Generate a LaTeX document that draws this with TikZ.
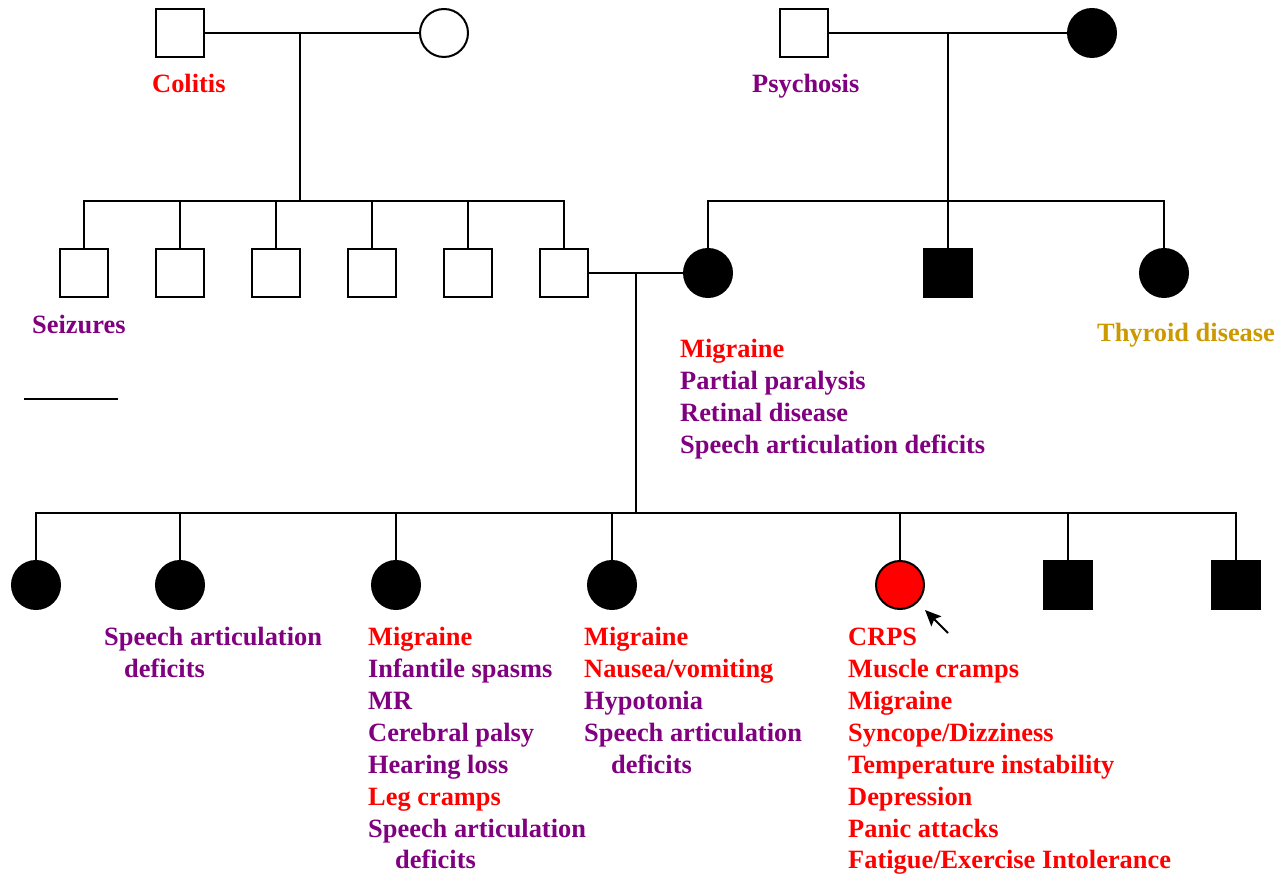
\documentclass[tikz,border=0pt]{standalone}
\usepackage{fontspec}
\setmainfont{Liberation Serif}
\usetikzlibrary{arrows.meta}
\definecolor{sred}{RGB}{255,0,0}
\definecolor{spurple}{RGB}{128,0,128}
\definecolor{sgold}{RGB}{204,153,0}
\newcommand{\lbfont}{\bfseries\fontsize{26.4}{32}\selectfont}
\tikzset{
  male/.style={draw, line width=2pt, rectangle, minimum size=48pt, inner sep=0pt},
  female/.style={draw, line width=2pt, circle, minimum size=48pt, inner sep=0pt},
  aff/.style={fill=black},
  link/.style={line width=2pt},
  lbl/.style={anchor=base west, inner sep=0pt, font=\lbfont},
  red/.style={text=sred},
  pur/.style={text=spurple},
  gold/.style={text=sgold},
}
\begin{document}
\begin{tikzpicture}[x=1pt, y=-1pt]
\useasboundingbox (0,0) rectangle (1278,874);

% ---- generation I ----
\node[male]        (gf1) at (180,33) {};
\node[female]      (gm1) at (444,33) {};
\node[male]        (gf2) at (804,33) {};
\node[female, aff] (gm2) at (1092,33) {};
\node[lbl, red] (tcol) at (152,93) {Colitis};
\node[lbl, pur] (tpsy) at (752,93) {Psychosis};

% ---- generation II, paternal side ----
\foreach \i/\x in {1/84, 2/180, 3/276, 4/372, 5/468, 6/564}
  \node[male] (p\i) at (\x,273) {};
% ---- generation II, maternal side ----
\node[female, aff] (mo)  at (708,273) {};
\node[male, aff]   (mu)  at (948,273) {};
\node[female, aff] (mau) at (1164,273) {};
\node[lbl, pur]  (tsei) at (32,334) {Seizures};
\node[lbl, gold] (tthy) at (1097,342) {Thyroid disease};
\node[lbl, red]  (tmo1) at (680,358) {Migraine};
\node[lbl, pur]  (tmo2) at (680,390) {Partial paralysis};
\node[lbl, pur]  (tmo3) at (680,422) {Retinal disease};
\node[lbl, pur]  (tmo4) at (680,454) {Speech articulation deficits};

% short rule under the paternal uncles
\coordinate (ra) at (24,399);
\coordinate (rb) at (118,399);
\draw[link] (ra) -- (rb);

% ---- generation III ----
\node[female, aff] (k1) at (36,585) {};
\node[female, aff] (k2) at (180,585) {};
\node[female, aff] (k3) at (396,585) {};
\node[female, aff] (k4) at (612,585) {};
\node[female, fill=sred] (k5) at (900,585) {};
\node[male, aff]   (k6) at (1068,585) {};
\node[male, aff]   (k7) at (1236,585) {};

\node[lbl, pur] (a1) at (104,645) {Speech articulation};
\node[lbl, pur] (a2) at (124,677) {deficits};

\node[lbl, red] (b1) at (368,645) {Migraine};
\node[lbl, pur] (b2) at (368,677) {Infantile spasms};
\node[lbl, pur] (b3) at (368,709) {MR};
\node[lbl, pur] (b4) at (368,741) {Cerebral palsy};
\node[lbl, pur] (b5) at (368,773) {Hearing loss};
\node[lbl, red] (b6) at (368,805) {Leg cramps};
\node[lbl, pur] (b7) at (368,837) {Speech articulation};
\node[lbl, pur] (b8) at (395,868) {deficits};

\node[lbl, red] (c1) at (584,645) {Migraine};
\node[lbl, red] (c2) at (584,677) {Nausea/vomiting};
\node[lbl, pur] (c3) at (584,709) {Hypotonia};
\node[lbl, pur] (c4) at (584,741) {Speech articulation};
\node[lbl, pur] (c5) at (611,773) {deficits};

\node[lbl, red] (d1) at (848,645) {CRPS};
\node[lbl, red] (d2) at (848,677) {Muscle cramps};
\node[lbl, red] (d3) at (848,709) {Migraine};
\node[lbl, red] (d4) at (848,741) {Syncope/Dizziness};
\node[lbl, red] (d5) at (848,773) {Temperature instability};
\node[lbl, red] (d6) at (848,805) {Depression};
\node[lbl, red] (d7) at (848,837) {Panic attacks};
\node[lbl, red] (d8) at (848,868) {Fatigue/Exercise Intolerance};

% ---- connectors ----
\coordinate (m1) at (300,33);
\coordinate (s1) at (300,201);
\coordinate (m2) at (948,33);
\coordinate (s2) at (948,201);
\coordinate (m3) at (636,273);
\coordinate (s3) at (636,513);

% matings
\draw[link] (gf1.east) -- (gm1.west);
\draw[link] (gf2.east) -- (gm2.west);
\draw[link] (p6.east) -- (mo.west);

% descent lines
\draw[link] (m1) -- (s1);
\draw[link] (m2) -- (mu.north);
\draw[link] (m3) -- (s3);

% sibship lines
\draw[link] (p1.north) |- (s1) -| (p6.north);
\foreach \i in {2,...,5} \draw[link] (p\i.north) -- (p\i.north |- s1);
\draw[link] (mo.north) |- (s2) -| (mau.north);
\draw[link] (k1.north) |- (s3) -| (k7.north);
\foreach \i in {2,...,6} \draw[link] (k\i.north) -- (k\i.north |- s3);

% proband arrow
\coordinate (pa) at (948,633);
\coordinate (pt) at (925,610);
\draw[link, -{Stealth[length=16pt, width=14pt, inset=3pt]}] (pa) -- (pt);
\end{tikzpicture}
\end{document}
